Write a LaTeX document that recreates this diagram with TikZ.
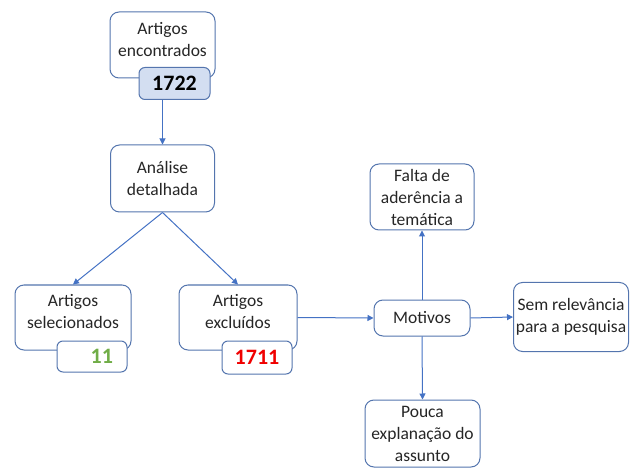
\documentclass[tikz,border=0pt]{standalone}
\usepackage{fontspec}
\setmainfont{Carlito}
\usetikzlibrary{arrows.meta}
\definecolor{boxline}{HTML}{5475AE}
\definecolor{arrowc}{HTML}{4472C4}
\definecolor{numfill}{HTML}{D3DEF1}
\definecolor{numgreen}{HTML}{70AD47}
\definecolor{numred}{HTML}{F00000}
\begin{document}
\begin{tikzpicture}[x=1pt,y=-1pt,
  box/.style={draw=boxline, line width=1pt, rounded corners=9pt, fill=white,
    align=center, inner sep=0pt, font=\fontsize{17.5}{22}\selectfont, text=black!85},
  upper/.style={text depth=12pt},
  numbox/.style={draw=boxline, line width=1pt, rounded corners=6pt, fill=white,
    inner sep=0pt, font=\fontsize{22}{24}\selectfont\bfseries},
  conn/.style={draw=arrowc, line width=1pt, -{Triangle[length=6pt,width=6pt]}}]
\useasboundingbox (0,0) rectangle (630,468);
% main boxes
\node[box, upper, minimum width=105pt, minimum height=66pt] (enc) at (162.5,45) {Artigos\\encontrados};
\node[numbox, fill=numfill, text=black, minimum width=71pt, minimum height=32pt] (n1722) at (174.5,83.5) {1722};
\node[box, minimum width=104pt, minimum height=67pt] (ana) at (162.5,178.5) {Análise\\detalhada};
\node[box, upper, minimum width=116pt, minimum height=65pt] (sel) at (73,317.5) {Artigos\\selecionados};
\node[numbox, text=numgreen, minimum width=70pt, minimum height=31pt, text width=42pt, align=right] (n11) at (92,356.5) {11};
\node[box, upper, minimum width=118pt, minimum height=65pt] (exc) at (238,317.5) {Artigos\\excluídos};
\node[numbox, text=numred, minimum width=70pt, minimum height=33pt] (n1711) at (257,357.5) {1711};
\node[box, minimum width=96pt, minimum height=36pt] (mot) at (422,318) {Motivos};
\node[box, minimum width=104pt, minimum height=66pt] (fal) at (422,197) {Falta de\\aderência a\\temática};
\node[box, minimum width=115pt, minimum height=69pt] (sem) at (571,317) {Sem relevância\\para a pesquisa};
\node[box, minimum width=115pt, minimum height=67pt] (pou) at (422.5,433.5) {Pouca\\explanação do\\assunto};
% connectors
\draw[conn] (n1722.south -| ana.north) -- (ana.north);
\draw[conn] (ana.south) -- (sel.north);
\draw[conn] (ana.south) -- (exc.north);
\draw[conn] (exc.east) -- (mot.west);
\draw[conn] (mot.north) -- (fal.south);
\draw[conn] (mot.east) -- (sem.west);
\draw[conn] (mot.south) -- (pou.north);
\end{tikzpicture}
\end{document}
